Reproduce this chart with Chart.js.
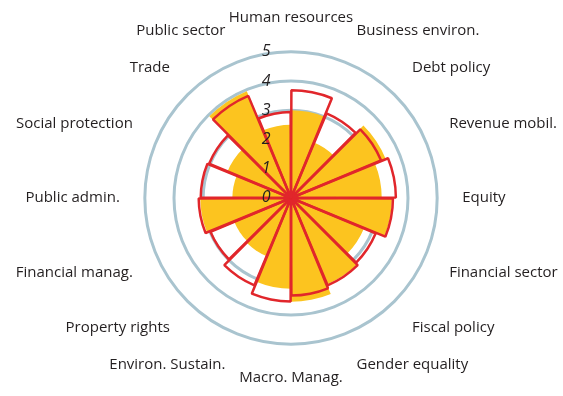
<!DOCTYPE html>
<html>
<head>
<meta charset="utf-8">
<script src="https://cdn.jsdelivr.net/npm/chart.js@4"></script>
<style>
  html, body { margin: 0; padding: 0; background: #fff; }
  #wrap { width: 563px; height: 396px; }
</style>
</head>
<body>
<div id="wrap"><canvas id="grafico-polar"></canvas></div>
<script>
// categorias no sentido horario a partir do topo
const categorias = [
  "Human resources", "Business environ.", "Debt policy", "Revenue mobil.",
  "Equity", "Financial sector", "Fiscal policy", "Gender equality",
  "Macro. Manag.", "Environ. Sustain.", "Property rights", "Financial manag.",
  "Public admin.", "Social protection", "Trade", "Public sector"
];

// serie amarela (preenchida)
const valoresAmarelo = [3.0, 2.05, 3.5, 3.1, 3.45, 2.7, 3.2, 3.55, 3.1, 2.15, 2.1, 3.1, 2.0, 2.35, 3.95, 2.5];
// serie vermelha (so contorno)
const valoresVermelho = [3.65, 3.1, 3.3, 3.55, 3.45, 3.1, 3.2, 3.3, 3.5, 3.2, 2.95, 3.12, 3.05, 3.0, 3.75, 2.9];

const ticksEscala = [0, 1, 2, 3, 4, 5];
const circulosVisiveis = [3, 4, 5];

const ctx = document.getElementById("grafico-polar").getContext("2d");

new Chart(ctx, {
  type: 'polarArea',
  data: {
    labels: categorias,
    datasets: [
      {
        label: 'Contorno',
        data: valoresVermelho,
        backgroundColor: 'rgba(0,0,0,0)',
        borderColor: '#e1262b',
        borderWidth: 2.5,
        spacing: 2
      },
      {
        label: 'Preenchido',
        data: valoresAmarelo,
        backgroundColor: '#fcc41f',
        borderWidth: 0
      }
    ]
  },
  options: {
    responsive: true,
    maintainAspectRatio: false,
    animation: false,
    layout: { padding: { left: 10, right: 0, top: 0, bottom: 0 } },
    plugins: {
      legend: { display: false },
      tooltip: { enabled: false }
    },
    scales: {
      r: {
        min: -0.01, // senao o "0" nao aparece
        max: 5,
        startAngle: 0,
        afterBuildTicks: (scale) => {
          scale.ticks = ticksEscala.map(v => ({ value: v }));
        },
        grid: {
          circular: true,
          lineWidth: 3,
          color: (c) => circulosVisiveis.includes(c.tick && c.tick.value) ? '#a9c4cf' : 'rgba(0,0,0,0)'
        },
        angleLines: { display: false },
        ticks: {
          showLabelBackdrop: false,
          color: '#231f20',
          z: 1,
          font: { family: 'Open Sans', size: 16, style: 'italic' },
          callback: (v) => v + '            '
        },
        pointLabels: {
          display: true,
          centerPointLabels: false,
          padding: 15,
          color: '#231f20',
          font: { family: 'Open Sans', size: 15 }
        }
      }
    }
  }
});
</script>
</body>
</html>
